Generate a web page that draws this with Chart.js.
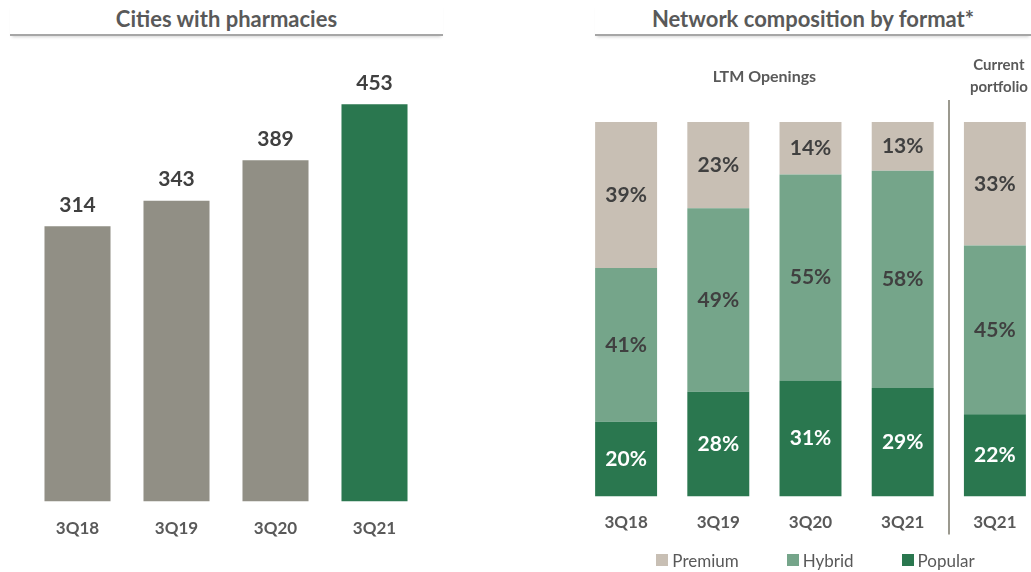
<!DOCTYPE html>
<html>
<head>
<meta charset="utf-8">
<title>Pharmacy network</title>
<script src="https://cdn.jsdelivr.net/npm/chart.js@4.4.1/dist/chart.umd.min.js"></script>
<style>
    body {
        margin: 0;
        width: 1031px;
        height: 572px;
        overflow: hidden;
        background: #fff;
        position: relative;
        font-family: Lato, 'Open Sans', sans-serif;
    }
    .panel-title {
        position: absolute;
        top: 4px;
        height: 30px;
        line-height: 30px;
        text-align: center;
        font-weight: 700;
        font-size: 22px;
        color: #595959;
        border-bottom: 2px solid #a6a6a6;
        box-shadow: 0 3px 3px -2px rgba(0, 0, 0, 0.18);
    }
    #citiesTitle { left: 10px; width: 433px; }
    #networkTitle { left: 595px; width: 436px; }
    .chart-box { position: absolute; top: 40px; height: 532px; }
    #citiesBox { left: 0; width: 450px; }
    #networkBox { left: 580px; width: 461px; }
    #networkLegend {
        position: absolute;
        left: 600px;
        width: 431px;
        top: 549px;
        height: 22px;
        display: flex;
        justify-content: center;
        gap: 48px;
        font-size: 17px;
        color: #595959;
    }
    #networkLegend .item { display: flex; align-items: center; gap: 4px; }
    #networkLegend .swatch { width: 12px; height: 12px; }
</style>
</head>
<body>
<div class="panel-title" id="citiesTitle">Cities with pharmacies</div>
<div class="panel-title" id="networkTitle">Network composition by format*</div>
<div class="chart-box" id="citiesBox"><canvas id="citiesChart"></canvas></div>
<div class="chart-box" id="networkBox"><canvas id="networkChart"></canvas></div>
<div id="networkLegend"></div>

<script>
// Cities with pharmacies
const cityQuarters = ['3Q18', '3Q19', '3Q20', '3Q21'];
const cityCounts = [314, 343, 389, 453];

// Network composition by format (%), last column is the current portfolio
const formatPeriods = ['3Q18', '3Q19', '3Q20', '3Q21', '3Q21'];
const popularShare = [20, 28, 31, 29, 22];
const hybridShare = [41, 49, 55, 58, 45];
const premiumShare = [39, 23, 14, 13, 33];

const GREY_BAR = '#918f85';
const GREEN = '#2a774f';
const HYBRID = '#75a58a';
const PREMIUM = '#c8bfb4';
const TEXT_DARK = '#404040';
const TEXT_MID = '#595959';
const FONT = "Lato, 'Open Sans', sans-serif";

Chart.defaults.font.family = FONT;
Chart.defaults.animation = false;

// Writes each bar's value either above the bar or centred inside its segment
const barValueLabels = {
    id: 'barValueLabels',
    afterDatasetsDraw(chart, args, opts) {
        const ctx = chart.ctx;
        ctx.save();
        ctx.font = `bold ${opts.size}px ${FONT}`;
        ctx.textAlign = 'center';
        ctx.textBaseline = 'middle';
        chart.data.datasets.forEach((ds, i) => {
            const meta = chart.getDatasetMeta(i);
            if (meta.hidden) return;
            meta.data.forEach((bar, j) => {
                const v = ds.data[j];
                const text = v + (opts.suffix || '');
                let y;
                if (opts.inside) {
                    y = (bar.y + bar.base) / 2;
                } else {
                    y = bar.y - opts.offset;
                }
                ctx.fillStyle = ds.labelColor || opts.color;
                ctx.fillText(text, bar.x, y);
            });
        });
        ctx.restore();
    }
};

// Divider between the openings and the current portfolio, plus group headings
const groupDivider = {
    id: 'groupDivider',
    afterDraw(chart) {
        const ctx = chart.ctx;
        const x = chart.scales.x;
        const area = chart.chartArea;
        const splitX = Math.round(x.getPixelForValue(3.5));

        ctx.save();
        ctx.strokeStyle = '#9b998f';
        ctx.lineWidth = 2;
        ctx.beginPath();
        ctx.moveTo(splitX, area.top - 22);
        ctx.lineTo(splitX, area.bottom + 38);
        ctx.stroke();

        ctx.fillStyle = TEXT_MID;
        ctx.textAlign = 'center';
        ctx.textBaseline = 'middle';
        ctx.font = `bold 16px ${FONT}`;
        const openingsX = (x.getPixelForValue(0) + x.getPixelForValue(3)) / 2;
        ctx.fillText('LTM Openings', openingsX, area.top - 45);

        ctx.font = `bold 15px ${FONT}`;
        const currentX = x.getPixelForValue(4) + 4;
        ctx.fillText('Current', currentX, area.top - 57);
        ctx.fillText('portfolio', currentX, area.top - 35);
        ctx.restore();
    }
};

new Chart(document.getElementById('citiesChart'), {
    type: 'bar',
    data: {
        labels: cityQuarters,
        datasets: [{
            label: 'Cities',
            data: cityCounts,
            backgroundColor: cityQuarters.map((q, i) => i === cityQuarters.length - 1 ? GREEN : GREY_BAR),
            barPercentage: 0.667,
            categoryPercentage: 1
        }]
    },
    options: {
        responsive: true,
        maintainAspectRatio: false,
        layout: { padding: { top: 23, left: 28, right: 26, bottom: 16 } },
        plugins: {
            legend: { display: false },
            tooltip: { enabled: false },
            barValueLabels: { size: 21, offset: 21, color: TEXT_DARK }
        },
        scales: {
            y: { display: false, min: 0, max: 500 },
            x: {
                grid: { display: false, drawTicks: false },
                border: { display: false },
                ticks: { color: TEXT_MID, padding: 17, font: { size: 17, weight: 'bold' } }
            }
        }
    },
    plugins: [barValueLabels]
});

const networkChart = new Chart(document.getElementById('networkChart'), {
    type: 'bar',
    data: {
        labels: formatPeriods,
        datasets: [
            { label: 'Popular', data: popularShare, backgroundColor: GREEN, labelColor: '#ffffff' },
            { label: 'Hybrid', data: hybridShare, backgroundColor: HYBRID, labelColor: TEXT_DARK },
            { label: 'Premium', data: premiumShare, backgroundColor: PREMIUM, labelColor: TEXT_DARK }
        ]
    },
    options: {
        responsive: true,
        maintainAspectRatio: false,
        datasets: { bar: { barPercentage: 0.672, categoryPercentage: 1 } },
        layout: { padding: { top: 82, left: 0, right: 0, bottom: 23 } },
        plugins: {
            legend: { display: false },
            tooltip: { enabled: false },
            barValueLabels: { size: 21, inside: true, suffix: '%', color: TEXT_DARK }
        },
        scales: {
            y: { display: false, stacked: true, min: 0, max: 100 },
            x: {
                stacked: true,
                grid: { display: false, drawTicks: false },
                border: { display: false },
                ticks: { color: TEXT_MID, padding: 16, font: { size: 17, weight: 'bold' } }
            }
        }
    },
    plugins: [barValueLabels, groupDivider]
});

// Legend below the stacked bars, top segment first
function buildLegend(chart, containerId) {
    const box = document.getElementById(containerId);
    const items = Chart.defaults.plugins.legend.labels.generateLabels(chart).reverse();
    items.forEach(item => {
        const el = document.createElement('div');
        el.className = 'item';
        const swatch = document.createElement('span');
        swatch.className = 'swatch';
        swatch.style.background = item.fillStyle;
        const label = document.createElement('span');
        label.textContent = item.text;
        el.appendChild(swatch);
        el.appendChild(label);
        box.appendChild(el);
    });
}

buildLegend(networkChart, 'networkLegend');
</script>
</body>
</html>
